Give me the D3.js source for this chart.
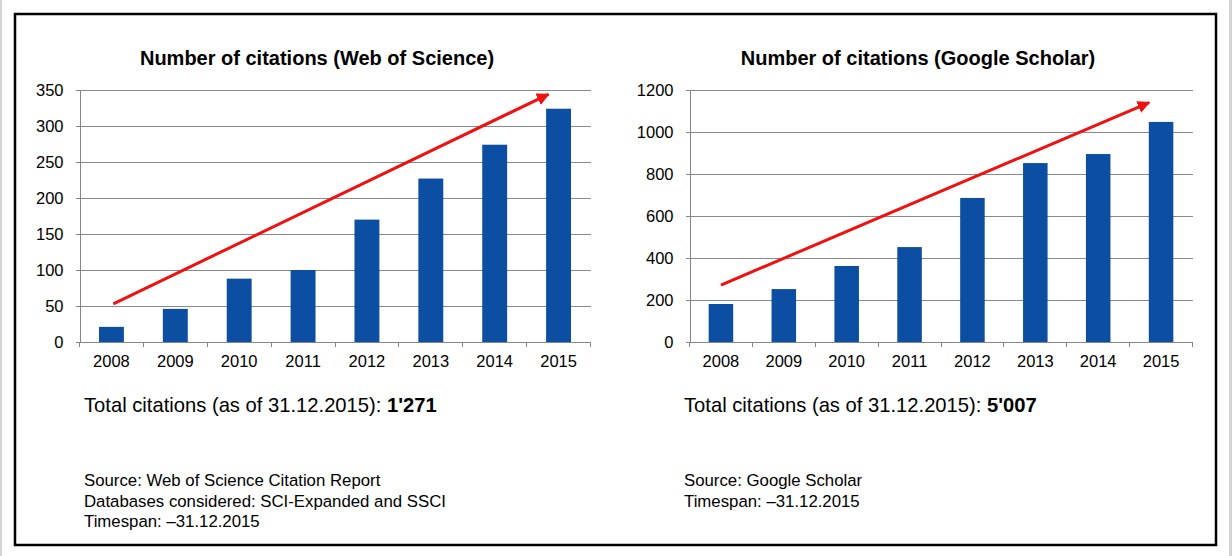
<!DOCTYPE html>
<html><head><meta charset="utf-8">
<script src="https://cdn.jsdelivr.net/npm/d3@7"></script>
<style>
html,body{margin:0;padding:0;background:#fff;}
svg{display:block;font-family:"Liberation Sans",Arial,sans-serif;}
</style></head>
<body>
<svg id="chart" width="1232" height="556"></svg>
<script>
const years = ["2008","2009","2010","2011","2012","2013","2014","2015"];
const wosValues = [21, 46, 88, 100, 170, 227, 274, 324];
const gsValues = [181, 252, 362, 452, 686, 852, 895, 1048];
const wosTicks = [0, 50, 100, 150, 200, 250, 300, 350];
const gsTicks = [0, 200, 400, 600, 800, 1000, 1200];
// trend arrows: [category position (0 = first year), value]
const wosArrow = [[0.03, 53], [6.84, 344]];
const gsArrow = [[0.0, 271], [6.81, 1140]];
const wosTitle = "Number of citations (Web of Science)";
const gsTitle = "Number of citations (Google Scholar)";
const wosTotal = "1'271";
const gsTotal = "5'007";
const wosNotes = ["Source: Web of Science Citation Report", "Databases considered: SCI-Expanded and SSCI", "Timespan: \u201331.12.2015"];
const gsNotes = ["Source: Google Scholar", "Timespan: \u201331.12.2015"];

const svg = d3.select("#chart");
// page edges
svg.append("rect").attr("x",0).attr("y",0).attr("width",2).attr("height",556).attr("fill","#d4d4d4");
svg.append("rect").attr("x",1229).attr("y",0).attr("width",3).attr("height",556).attr("fill","#d4d4d4");
// frame
svg.append("rect").attr("x",15).attr("y",14).attr("width",1201).attr("height",531)
  .attr("fill","none").attr("stroke","#000").attr("stroke-width",2.5);

const defs = svg.append("defs");
defs.append("marker").attr("id","ah").attr("viewBox","0 0 10 10").attr("refX",9).attr("refY",5)
  .attr("markerWidth",4.2).attr("markerHeight",4.2).attr("orient","auto")
  .attr("markerUnits","strokeWidth")
  .append("path").attr("d","M0,0 L10,5 L0,10 z").attr("fill","#f01010");

const FONT = "'Liberation Sans',Arial,sans-serif";

function panel(cfg){
  const g = svg.append("g");
  const x = d3.scaleBand().domain(years).range([cfg.x0, cfg.x1]).paddingInner(0.61).paddingOuter(0.305);
  const xb = d3.scaleBand().domain(years).range([cfg.x0, cfg.x1]);
  const y = d3.scaleLinear().domain([0, cfg.ticks[cfg.ticks.length-1]]).range([342, 90]);
  const xpos = d3.scaleLinear().domain([0, years.length-1])
    .range([xb(years[0]) + xb.bandwidth()/2, xb(years[years.length-1]) + xb.bandwidth()/2]);

  // gridlines
  g.append("g").selectAll("line").data(cfg.ticks.filter(t=>t>0)).join("line")
    .attr("x1", cfg.x0).attr("x2", cfg.x1).attr("y1", d=>y(d)).attr("y2", d=>y(d))
    .attr("stroke","#8a8a8a").attr("stroke-width",1).attr("shape-rendering","crispEdges");

  // y axis
  const ya = g.append("g").attr("transform",`translate(${cfg.x0},0)`)
    .call(d3.axisLeft(y).tickValues(cfg.ticks).tickFormat(d3.format("d")).tickSize(4).tickPadding(12).tickSizeOuter(0));
  ya.attr("font-size",16.5).attr("font-family",FONT);
  ya.select(".domain").attr("stroke","#868686").attr("shape-rendering","crispEdges");
  ya.selectAll(".tick line").attr("stroke","#868686").attr("shape-rendering","crispEdges");
  ya.selectAll("text").attr("fill","#000");

  // bars
  g.append("g").selectAll("rect").data(cfg.values).join("rect")
    .attr("x",(d,i)=>x(years[i])).attr("width",x.bandwidth())
    .attr("y",d=>y(d)).attr("height",d=>y(0)-y(d)).attr("fill","#0b4ea2");

  // x axis
  const xa = g.append("g").attr("transform","translate(0,342)")
    .call(d3.axisBottom(xb).tickSize(0).tickPadding(13));
  xa.attr("font-size",16.5).attr("font-family",FONT);
  xa.select(".domain").attr("stroke","#868686").attr("shape-rendering","crispEdges");
  xa.selectAll("text").attr("fill","#000");
  g.append("g").selectAll("line").data(d3.range(years.length+1)).join("line")
    .attr("x1",i=>cfg.x0 + i*xb.step()).attr("x2",i=>cfg.x0 + i*xb.step())
    .attr("y1",342).attr("y2",347).attr("stroke","#868686").attr("shape-rendering","crispEdges");

  // arrow
  g.append("line")
    .attr("x1", xpos(cfg.arrow[0][0])).attr("y1", y(cfg.arrow[0][1]))
    .attr("x2", xpos(cfg.arrow[1][0])).attr("y2", y(cfg.arrow[1][1]))
    .attr("stroke","#f01010").attr("stroke-width",3).attr("marker-end","url(#ah)");

  // title
  g.append("text").attr("x",cfg.titleX).attr("y",65).attr("text-anchor","middle")
    .attr("font-size",20).attr("font-weight","bold").text(cfg.title);

  // total
  const t = g.append("text").attr("x",cfg.tx).attr("y",412).attr("font-size",20.2);
  t.append("tspan").text("Total citations (as of 31.12.2015): ");
  t.append("tspan").attr("font-weight","bold").text(cfg.total);

  // notes
  g.append("g").selectAll("text").data(cfg.notes).join("text")
    .attr("x",cfg.tx).attr("y",(d,i)=>486 + i*20.7).attr("font-size",16.8).text(d=>d);
}

panel({x0:79.5, x1:590.5, values:wosValues, ticks:wosTicks, arrow:wosArrow, title:wosTitle, titleX:317, total:wosTotal, notes:wosNotes, tx:84});
panel({x0:689.5, x1:1192.5, values:gsValues, ticks:gsTicks, arrow:gsArrow, title:gsTitle, titleX:918, total:gsTotal, notes:gsNotes, tx:684});
</script>
</body></html>
